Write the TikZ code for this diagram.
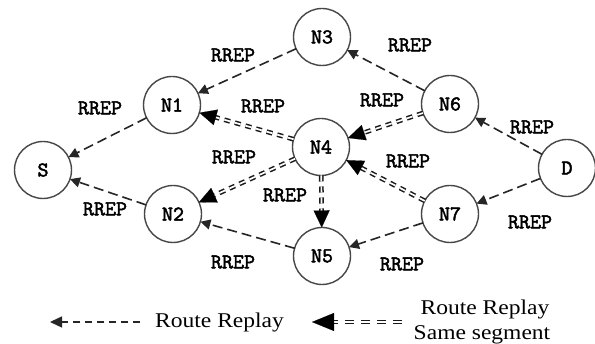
\documentclass[tikz,border=0pt]{standalone}
\usepackage{fontspec}
\setmainfont{Liberation Serif}
\newfontfamily\lblfont{lmmono10-regular}[Extension=.otf, FakeBold=2.2]
\usetikzlibrary{arrows.meta}
\begin{document}
\begin{tikzpicture}[x=1pt,y=-1pt,
  nd/.style={draw=black!72, line width=1.4pt, circle, minimum size=57pt, inner sep=0pt, outer sep=0pt,
             font=\lblfont\fontsize{21}{21}\selectfont},
  lbl/.style={inner sep=0pt, font=\lblfont\fontsize{21}{21}\selectfont},
  sgl/.style={draw=black!85, line width=1.6pt, dash pattern=on 10pt off 5pt,
              -{Triangle[length=10pt,width=10pt]}},
  dbl/.style={draw=black!90, line width=1.5pt, double distance=1.7pt, dash pattern=on 6pt off 5pt,
              shorten >=14pt},
  dblleg/.style={dbl, dash pattern=on 9pt off 7pt, shorten >=20pt},
  bigtip/.style={draw=black, line width=0.1pt, dash pattern=on 0pt off 2000pt,
              -{Triangle[length=17pt,width=16pt]}},
  bigtipleg/.style={bigtip, -{Triangle[length=22pt,width=18pt]}},
  leg/.style={inner sep=0pt, font=\fontsize{21}{21}\selectfont}
]
\useasboundingbox (0,0) rectangle (595,344);
\fill[white] (0,0) rectangle (595,344);

% nodes
\node[nd] (S)  at (43,170)  {S};
\node[nd] (N1) at (172,105) {N1};
\node[nd] (N2) at (173,214) {N2};
\node[nd] (N3) at (322,37)  {N3};
\node[nd] (N4) at (321,147) {N4};
\node[nd] (N5) at (322,256) {N5};
\node[nd] (N6) at (450,104) {N6};
\node[nd] (N7) at (450,214) {N7};
\node[nd] (D)  at (567,168) {D};

% single dashed connectors
\draw[sgl] (N1) -- (S);
\draw[sgl] (N3) -- (N1);
\draw[sgl] (N6) -- (N3);
\draw[sgl] (D) -- (N6);
\draw[sgl] (D) -- (N7);
\draw[sgl] (N7) -- (N5);
\draw[sgl] (N5) -- (N2);
\draw[sgl] (N2) -- (S);

% double dashed connectors (same segment)
\foreach \a/\b in {N4/N1, N6/N4, N4/N2, N7/N4, N4/N5}{
  \draw[dbl] (\a) -- (\b);
  \draw[bigtip] (\a) -- (\b);
}

% labels
\node[lbl] (l1)  at (100,108) {RREP};
\node[lbl] (l2)  at (233,55)  {RREP};
\node[lbl] (l3)  at (263,106) {RREP};
\node[lbl] (l4)  at (234,157) {RREP};
\node[lbl] (l5)  at (410,45)  {RREP};
\node[lbl] (l6)  at (382,100) {RREP};
\node[lbl] (l7)  at (532,127) {RREP};
\node[lbl] (l8)  at (408,161) {RREP};
\node[lbl] (l9)  at (285,195) {RREP};
\node[lbl] (l10) at (105,209) {RREP};
\node[lbl] (l11) at (233,262) {RREP};
\node[lbl] (l12) at (530,222) {RREP};
\node[lbl] (l13) at (402,264) {RREP};

% legend
\coordinate (a1) at (140,322);
\coordinate (a2) at (50,322);
\draw[draw=black!85, line width=1.4pt, dash pattern=on 7pt off 5pt,
      -{Triangle[length=12pt,width=11pt]}] (a1) -- (a2);
\node[leg, anchor=west] (t1) at (155,322) {\scalebox{1.12}[1]{Route Replay}};

\coordinate (b1) at (402,322);
\coordinate (b2) at (312,322);
\draw[dblleg] (b1) -- (b2);
\draw[bigtipleg] (b1) -- (b2);
\node[leg] (t2) at (485,309) {\scalebox{1.12}[1]{Route Replay}};
\node[leg] (t3) at (482,335) {\scalebox{1.12}[1]{Same segment}};
\end{tikzpicture}
\end{document}
